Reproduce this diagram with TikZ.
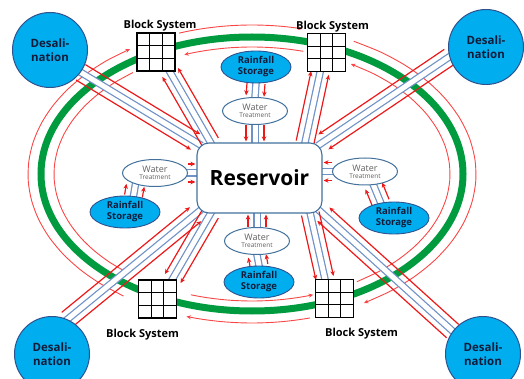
\documentclass[tikz,border=0pt]{standalone}
\usepackage{fontspec}
\setmainfont{Open Sans}
\usetikzlibrary{arrows.meta,positioning,calc,shapes.geometric}
\definecolor{skyfill}{RGB}{0,174,239}
\definecolor{desaledge}{RGB}{47,82,143}
\definecolor{navytext}{RGB}{18,28,58}
\definecolor{treatedge}{RGB}{65,113,156}
\definecolor{pipeblue}{RGB}{112,146,200}
\definecolor{flowred}{RGB}{235,25,25}
\definecolor{ringgreen}{RGB}{0,155,62}
\definecolor{arcred}{RGB}{250,70,70}
\pgfdeclarelayer{ringlayer}
\pgfdeclarelayer{pipelayer}
\pgfsetlayers{ringlayer,pipelayer,main}
\tikzset{
  desal/.style={circle, draw=desaledge, line width=1pt, fill=skyfill,
    minimum size=75pt, inner sep=0pt, align=center, text=navytext,
    font=\bfseries\fontsize{11.5}{13.5}\selectfont},
  rainstore/.style={ellipse, draw=desaledge, line width=0.9pt, fill=skyfill,
    minimum width=70pt, minimum height=32pt, inner sep=0pt, align=center,
    text=navytext, font=\bfseries\fontsize{9.5}{11}\selectfont},
  treat/.style={ellipse, draw=treatedge, line width=1pt, fill=white,
    minimum width=65pt, minimum height=27pt, inner sep=0pt, align=center,
    text=black!62, font=\fontsize{9}{9}\selectfont},
  reserv/.style={draw=treatedge, line width=1.1pt, fill=white, rounded corners=12pt,
    minimum width=125pt, minimum height=70pt,
    font=\bfseries\fontsize{21}{24}\selectfont},
  blockgrid/.style={draw=black, line width=1.1pt, fill=white, minimum size=38pt,
    inner sep=0pt,
    path picture={
      \foreach \f in {0.3333,0.6667}{
        \draw[line width=1.1pt]
          ($(path picture bounding box.north west)!\f!(path picture bounding box.north east)$) --
          ($(path picture bounding box.south west)!\f!(path picture bounding box.south east)$);
        \draw[line width=1.1pt]
          ($(path picture bounding box.north west)!\f!(path picture bounding box.south west)$) --
          ($(path picture bounding box.north east)!\f!(path picture bounding box.south east)$);
      }}},
  blocklbl/.style={font=\bfseries\fontsize{11}{12}\selectfont, inner sep=1pt},
  greenring/.style={line width=7pt, draw=ringgreen},
  redloop/.style={line width=0.9pt, draw=arcred, -{Stealth[length=4.5pt,width=4pt]}},
  pipeouter/.style={line width=7.5pt, draw=pipeblue, shorten <=-6pt, shorten >=-6pt},
  pipeinner/.style={line width=5pt, draw=white, shorten <=-6pt, shorten >=-6pt},
  flow/.style={-{Stealth[length=5pt,width=4.5pt]}, line width=1.2pt, draw=flowred,
    shorten >=1pt}
}
% pipe with two red flow arrows beside it, from #2 to #3
\newcommand{\feedline}[3][9pt]{%
  \draw[pipeouter] (#2) -- (#3);
  \draw[pipeinner] (#2) -- (#3);
  \draw[flow] ($(#2)!#1!90:(#3)$) -- ($(#3)!#1!-90:(#2)$);
  \draw[flow] ($(#2)!#1!-90:(#3)$) -- ($(#3)!#1!90:(#2)$);
}

\begin{document}
\begin{tikzpicture}[x=1pt, y=-1pt]
  \useasboundingbox (0,0) rectangle (524,379);
  % green ring and red loops
  \begin{pgfonlayer}{ringlayer}
    \draw[greenring] (252,174) ellipse [x radius=211pt, y radius=137pt];
    \foreach \a/\b in {109/77, 63/-60, -75/-107, 235/123}
      \draw[redloop] plot[smooth, variable=\t, domain=\a:\b, samples=16]
        ({252+224*cos(\t)}, {174-149*sin(\t)});
    \foreach \a/\b in {75/110, -58/60, -108/-72, 127/231}
      \draw[redloop] plot[smooth, variable=\t, domain=\a:\b, samples=16]
        ({252+198*cos(\t)}, {174-127*sin(\t)});
  \end{pgfonlayer}

  \node[reserv] (res) at (259.5,178) {Reservoir};

  \node[desal] (desTL) at (50,50) {Desali-\\nation};
  \node[desal] (desTR) at (486,47) {Desali-\\nation};
  \node[desal] (desBL) at (52,354) {Desali-\\nation};
  \node[desal] (desBR) at (483,354) {Desali-\\nation};

  \node[blockgrid] (blkTL) at (156,52) {};
  \node[blockgrid] (blkTR) at (326.5,52.5) {};
  \node[blockgrid] (blkBL) at (157.5,299) {};
  \node[blockgrid] (blkBR) at (334.5,298.5) {};
  \node[blocklbl, above=0pt of blkTL, xshift=4pt] (lblTL) {Block System};
  \node[blocklbl, above=0pt of blkTR, xshift=6pt] (lblTR) {Block System};
  \node[blocklbl, below=9pt of blkBL, xshift=-15pt] (lblBL) {Block System};
  \node[blocklbl, below=9pt of blkBR, xshift=27pt] (lblBR) {Block System};

  \node[treat] (wtT) at (255,111) {Water\\[-2pt]{\fontsize{6.5}{7}\selectfont Treatment}};
  \node[treat] (wtL) at (155,173) {Water\\[-2pt]{\fontsize{6.5}{7}\selectfont Treatment}};
  \node[treat] (wtR) at (365,171.5) {Water\\[-2pt]{\fontsize{6.5}{7}\selectfont Treatment}};
  \node[treat] (wtB) at (257,241) {Water\\[-2pt]{\fontsize{6.5}{7}\selectfont Treatment}};

  \node[rainstore] (rainT) at (256,67) {Rainfall\\Storage};
  \node[rainstore] (rainL) at (125,212) {Rainfall\\Storage};
  \node[rainstore] (rainR) at (394,218) {Rainfall\\Storage};
  \node[rainstore] (rainB) at (259,282) {Rainfall\\Storage};

  \coordinate (tT) at (wtT.south |- res.north);
  \coordinate (tL) at (wtL.east -| res.west);
  \coordinate (tR) at (wtR.west -| res.east);
  \coordinate (tB) at (wtB.north |- res.south);

  % pipes
  \begin{pgfonlayer}{pipelayer}
    \feedline{desTL.-36}{res.north west}
    \feedline{desTR.195}{res.north east}
    \feedline{desBL.66}{res.south west}
    \feedline{desBR.143}{res.south east}
    \feedline{res.144}{blkTL.-55}
    \feedline{res.38}{blkTR.-108}
    \feedline{res.-144}{blkBL.53}
    \feedline{res.-35}{blkBR.116}
    \feedline{rainT.south}{wtT.north}
    \feedline{wtT.south}{tT}
    \feedline{rainL.62}{wtL.-150}
    \feedline{wtL.east}{tL}
    \feedline{rainR.131}{wtR.-58}
    \feedline{wtR.west}{tR}
    \feedline{rainB.north}{wtB.south}
    \feedline{wtB.north}{tB}
  \end{pgfonlayer}
\end{tikzpicture}
\end{document}
